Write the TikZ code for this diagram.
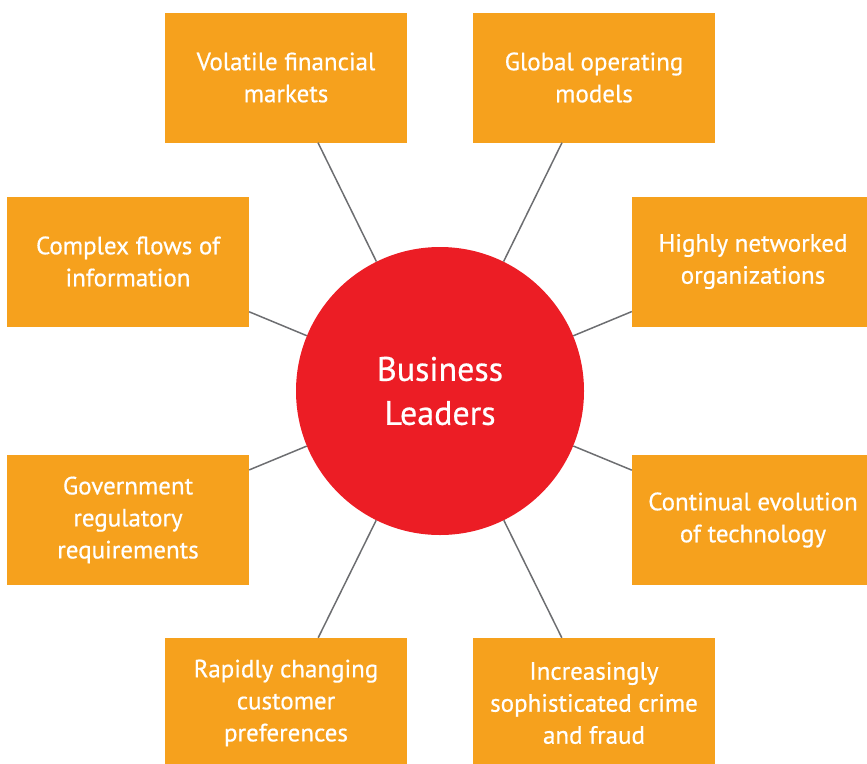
\documentclass[tikz,border=0pt]{standalone}
\usepackage{fontspec}
\setmainfont{PT Sans}
\newfontfamily\labelfont[FakeBold=0.6]{PT Sans}
\definecolor{boxorange}{HTML}{F6A11D}
\definecolor{hubred}{HTML}{EC1D25}
\definecolor{linegray}{HTML}{6D6E71}
\begin{document}
\begin{tikzpicture}[x=1pt,y=-1pt,
  box/.style={fill=boxorange, minimum width=242pt, minimum height=130pt, inner sep=0pt,
    text=white, align=center, font=\labelfont\fontsize{25}{32}\selectfont},
  hub/.style={circle, fill=hubred, minimum size=288pt, inner sep=0pt,
    text=white, align=center, font=\labelfont\fontsize{34}{44}\selectfont},
  link/.style={draw=linegray, line width=1.5pt}]
\useasboundingbox (0,0) rectangle (867,763);
\clip (0,0) rectangle (867,763);
\node[hub] (hub) at (440,391) {Business\\Leaders};
\node[box] (vol) at (286,77.5) {Volatile financial\\markets};
\node[box] (glob) at (594,77.5) {Global operating\\models};
\node[box] (cplx) at (128,261.5) {Complex flows of\\information};
\node[box] (netw) at (753,261.5) {Highly networked\\organizations};
\node[box] (gov) at (128,520) {Government\\regulatory\\requirements};
\node[box] (cont) at (753,520) {Continual evolution\\of technology};
\node[box] (rapid) at (286,703) {Rapidly changing\\customer\\preferences};
\node[box] (crime) at (594,703) {Increasingly\\sophisticated crime\\and fraud};
\foreach \b in {vol,glob,cplx,netw,gov,cont,rapid,crime}
  \draw[link] (hub) -- (\b);
\end{tikzpicture}
\end{document}
